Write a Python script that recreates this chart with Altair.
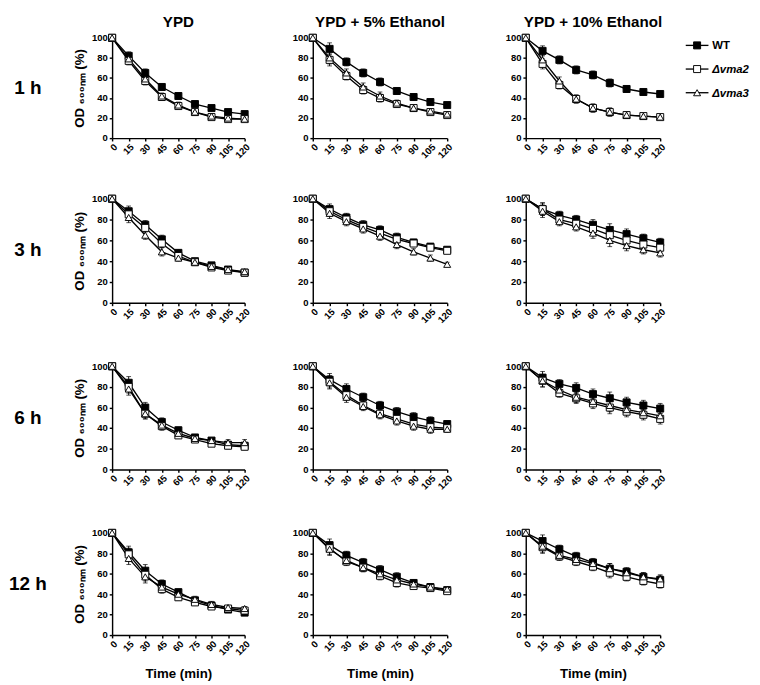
import altair as alt
import pandas as pd

FONT = "Liberation Sans"

TIMES = [0, 15, 30, 45, 60, 75, 90, 105, 120]
STRAINS = ["WT", "Δvma2", "Δvma3"]
MEDIA = ["YPD", "YPD + 5% Ethanol", "YPD + 10% Ethanol"]
HOURS = ["1 h", "3 h", "6 h", "12 h"]

# ---- 1 h ----
WT_1h_YPD = [100, 82, 65, 51, 42, 34, 30, 26, 24]
V2_1h_YPD = [100, 77, 57, 41, 32, 26, 21, 19, 19]
V3_1h_YPD = [100, 79, 59, 42, 33, 26, 22, 20, 19]
ERR_1h_YPD = [0, 4, 4, 3, 3, 2, 2, 2, 2]
WT_1h_E5 = [100, 89, 76, 65, 56, 47, 41, 36, 33]
V2_1h_E5 = [100, 78, 62, 48, 40, 34, 30, 26, 23]
V3_1h_E5 = [100, 80, 65, 51, 42, 35, 30, 27, 24]
ERR_1h_E5 = [0, 6, 4, 4, 4, 3, 2, 2, 2]
WT_1h_E10 = [100, 87, 78, 68, 63, 55, 49, 46, 44]
V2_1h_E10 = [100, 74, 53, 39, 30, 26, 23, 22, 21]
V3_1h_E10 = [100, 78, 57, 39, 30, 26, 23, 22, 21]
ERR_1h_E10 = [0, 5, 4, 4, 4, 4, 3, 2, 2]

# ---- 3 h ----
WT_3h_YPD = [100, 88, 75, 61, 48, 40, 36, 32, 29]
V2_3h_YPD = [100, 85, 72, 57, 45, 39, 34, 31, 29]
V3_3h_YPD = [100, 82, 65, 49, 43, 39, 35, 32, 30]
ERR_3h_YPD = [0, 5, 4, 4, 3, 2, 2, 2, 2]
WT_3h_E5 = [100, 90, 82, 75, 70, 63, 58, 54, 51]
V2_3h_E5 = [100, 88, 80, 73, 67, 61, 57, 53, 50]
V3_3h_E5 = [100, 86, 78, 71, 64, 56, 49, 43, 37]
ERR_3h_E5 = [0, 5, 4, 4, 4, 4, 3, 3, 2]
WT_3h_E10 = [100, 90, 84, 80, 75, 70, 66, 62, 58]
V2_3h_E10 = [100, 90, 80, 76, 71, 65, 60, 56, 53]
V3_3h_E10 = [100, 88, 78, 73, 67, 60, 55, 51, 48]
ERR_3h_E10 = [0, 6, 4, 4, 5, 6, 5, 4, 4]

# ---- 6 h ----
WT_6h_YPD = [100, 84, 60, 46, 38, 31, 28, 24, 23]
V2_6h_YPD = [100, 80, 54, 42, 33, 29, 25, 23, 22]
V3_6h_YPD = [100, 78, 54, 43, 35, 30, 28, 26, 26]
ERR_6h_YPD = [0, 6, 5, 4, 3, 2, 2, 3, 3]
WT_6h_E5 = [100, 87, 78, 70, 62, 56, 51, 47, 44]
V2_6h_E5 = [100, 85, 72, 62, 54, 49, 44, 41, 40]
V3_6h_E5 = [100, 84, 70, 61, 53, 47, 42, 39, 39]
ERR_6h_E5 = [0, 6, 5, 4, 4, 4, 4, 4, 3]
WT_6h_E10 = [100, 89, 83, 79, 73, 69, 65, 62, 59]
V2_6h_E10 = [100, 86, 74, 69, 64, 60, 56, 53, 49]
V3_6h_E10 = [100, 86, 77, 70, 66, 62, 58, 55, 52]
ERR_6h_E10 = [0, 6, 4, 5, 5, 6, 5, 5, 5]

# ---- 12 h ----
WT_12h_YPD = [100, 81, 63, 50, 42, 34, 29, 25, 22]
V2_12h_YPD = [100, 79, 59, 45, 37, 32, 28, 26, 24]
V3_12h_YPD = [100, 75, 57, 47, 40, 35, 30, 27, 26]
ERR_12h_YPD = [0, 6, 6, 4, 3, 3, 3, 2, 2]
WT_12h_E5 = [100, 88, 78, 71, 64, 57, 51, 47, 44]
V2_12h_E5 = [100, 85, 72, 66, 58, 51, 48, 46, 43]
V3_12h_E5 = [100, 84, 73, 66, 60, 54, 50, 47, 45]
ERR_12h_E5 = [0, 6, 4, 4, 4, 4, 3, 3, 2]
WT_12h_E10 = [100, 92, 84, 77, 71, 65, 62, 57, 54]
V2_12h_E10 = [100, 86, 77, 72, 67, 61, 57, 53, 50]
V3_12h_E10 = [100, 87, 78, 74, 70, 65, 61, 57, 55]
ERR_12h_E10 = [0, 6, 4, 4, 4, 5, 4, 4, 4]

PANELS = {
    ("1 h", "YPD"): (WT_1h_YPD, V2_1h_YPD, V3_1h_YPD, ERR_1h_YPD),
    ("1 h", "YPD + 5% Ethanol"): (WT_1h_E5, V2_1h_E5, V3_1h_E5, ERR_1h_E5),
    ("1 h", "YPD + 10% Ethanol"): (WT_1h_E10, V2_1h_E10, V3_1h_E10, ERR_1h_E10),
    ("3 h", "YPD"): (WT_3h_YPD, V2_3h_YPD, V3_3h_YPD, ERR_3h_YPD),
    ("3 h", "YPD + 5% Ethanol"): (WT_3h_E5, V2_3h_E5, V3_3h_E5, ERR_3h_E5),
    ("3 h", "YPD + 10% Ethanol"): (WT_3h_E10, V2_3h_E10, V3_3h_E10, ERR_3h_E10),
    ("6 h", "YPD"): (WT_6h_YPD, V2_6h_YPD, V3_6h_YPD, ERR_6h_YPD),
    ("6 h", "YPD + 5% Ethanol"): (WT_6h_E5, V2_6h_E5, V3_6h_E5, ERR_6h_E5),
    ("6 h", "YPD + 10% Ethanol"): (WT_6h_E10, V2_6h_E10, V3_6h_E10, ERR_6h_E10),
    ("12 h", "YPD"): (WT_12h_YPD, V2_12h_YPD, V3_12h_YPD, ERR_12h_YPD),
    ("12 h", "YPD + 5% Ethanol"): (WT_12h_E5, V2_12h_E5, V3_12h_E5, ERR_12h_E5),
    ("12 h", "YPD + 10% Ethanol"): (WT_12h_E10, V2_12h_E10, V3_12h_E10, ERR_12h_E10),
}

PANEL_W = [140, 142, 142]
ROW_H = [106, 110, 109, 108]
LABEL_W = 42
TITLE_OFFSET = 3

shape_enc = alt.Shape("strain:N", scale=alt.Scale(domain=STRAINS, range=["square", "square", "triangle-up"]), legend=None)
fill_enc = alt.Fill("strain:N", scale=alt.Scale(domain=STRAINS, range=["black", "white", "white"]), legend=None)
size_enc = alt.Size("strain:N", scale=alt.Scale(domain=STRAINS, range=[55, 55, 80]), legend=None)


def panel(r, c):
    hour, medium = HOURS[r], MEDIA[c]
    wt, v2, v3, err = PANELS[(hour, medium)]
    recs = []
    for s, vals in zip(STRAINS, (wt, v2, v3)):
        for t, v, e in zip(TIMES, vals, err):
            recs.append({"time": t, "strain": s, "od": v, "lo": v - e, "hi": v + e})
    df = pd.DataFrame(recs)

    xaxis = alt.Axis(values=TIMES, labelAngle=-45, labelOverlap=False, labelFlush=False,
                     title="Time (min)" if r == 3 else None, titleFontSize=14, titlePadding=11)
    yaxis = alt.Axis(values=[0, 20, 40, 60, 80, 100], labelOverlap=False,
                     title="OD ₆₀₀ₙₘ (%)" if c == 0 else None, titleFontSize=14, titlePadding=5)
    xs = alt.Scale(domain=[0, 120], nice=False, zero=False)
    ys = alt.Scale(domain=[0, 100], nice=False)

    def X():
        return alt.X("time:Q", scale=xs, axis=xaxis)

    def Y(field):
        return alt.Y(f"{field}:Q", scale=ys, axis=yaxis)

    base = alt.Chart(df)
    bars = base.mark_rule(color="black", strokeWidth=1).encode(x=X(), y=Y("lo"), y2="hi:Q", detail="strain:N")
    cap_hi = base.mark_tick(color="black", thickness=1, size=5, orient="horizontal").encode(x=X(), y=Y("hi"))
    cap_lo = base.mark_tick(color="black", thickness=1, size=5, orient="horizontal").encode(x=X(), y=Y("lo"))
    line = base.mark_line(color="black", strokeWidth=1.4).encode(x=X(), y=Y("od"), detail="strain:N")
    pts = base.mark_point(filled=True, stroke="black", strokeWidth=1, opacity=1).encode(
        x=X(), y=Y("od"), shape=shape_enc, fill=fill_enc, size=size_enc)

    ch = alt.layer(bars, cap_hi, cap_lo, line, pts).properties(width=PANEL_W[c], height=ROW_H[r])
    if r == 0:
        ch = ch.properties(title=alt.TitleParams(medium, fontSize=16, fontWeight="bold", font=FONT,
                                                 color="black", anchor="middle", offset=TITLE_OFFSET))
    return ch


def row_label(r):
    df = pd.DataFrame({"label": [HOURS[r]]})
    ch = alt.Chart(df).mark_text(fontSize=20, fontWeight="bold", font=FONT, color="black",
                                 align="center", baseline="middle").encode(
        text="label:N", x=alt.value(LABEL_W / 2), y=alt.value(ROW_H[r] / 2)
    ).properties(width=LABEL_W, height=ROW_H[r])
    if r == 0:
        ch = ch.properties(title=alt.TitleParams(" ", fontSize=16, fontWeight="bold", font=FONT,
                                                 offset=TITLE_OFFSET + 6))
    return ch


def legend_chart():
    df = pd.DataFrame({"strain": STRAINS})
    ly = alt.Y("strain:N", sort=STRAINS, axis=None,
               scale=alt.Scale(type="point", domain=STRAINS, range=[8, 58], padding=0))
    base = alt.Chart(df)
    rule = base.mark_rule(color="black", strokeWidth=1.4).encode(x=alt.value(0), x2=alt.value(24), y=ly)
    pts = base.mark_point(filled=True, stroke="black", strokeWidth=1, opacity=1).encode(
        x=alt.value(12), y=ly, shape=shape_enc, fill=fill_enc, size=size_enc)
    t_wt = base.transform_filter(alt.datum.strain == "WT").mark_text(
        align="left", baseline="middle", fontSize=12, fontWeight="bold", font=FONT, color="black"
    ).encode(x=alt.value(28), y=ly, text="strain:N")
    t_mut = base.transform_filter(alt.datum.strain != "WT").mark_text(
        align="left", baseline="middle", fontSize=12, fontWeight="bold", fontStyle="italic", font=FONT, color="black"
    ).encode(x=alt.value(28), y=ly, text="strain:N")
    return alt.layer(rule, pts, t_wt, t_mut).properties(
        width=70, height=ROW_H[0],
        title=alt.TitleParams(" ", fontSize=16, fontWeight="bold", font=FONT, offset=TITLE_OFFSET + 6))


rows = []
for r in range(4):
    p = [panel(r, c) for c in range(3)]
    inner = alt.hconcat(alt.hconcat(p[0], p[1], spacing=42), p[2], spacing=53)
    if r == 0:
        inner = alt.hconcat(inner, legend_chart(), spacing=18)
    rows.append(alt.hconcat(row_label(r), inner, spacing=27))

chart = alt.vconcat(rows[0], alt.vconcat(rows[1], rows[2], rows[3], spacing=38), spacing=35).properties(
    padding={"top": -13, "left": 0, "right": 0, "bottom": 0}
).configure(
    font=FONT
).configure_view(stroke=None).configure_axis(
    grid=False, domainColor="black", domainWidth=1.5, tickColor="black", tickWidth=1.5, tickSize=3,
    labelFont=FONT, labelFontSize=10, labelFontWeight="bold", labelColor="black", labelPadding=1,
    titleFont=FONT, titleFontWeight="bold", titleColor="black"
).configure_axisY(labelPadding=2)

chart.save("out.html", embed_options={"renderer": "svg", "actions": False})
